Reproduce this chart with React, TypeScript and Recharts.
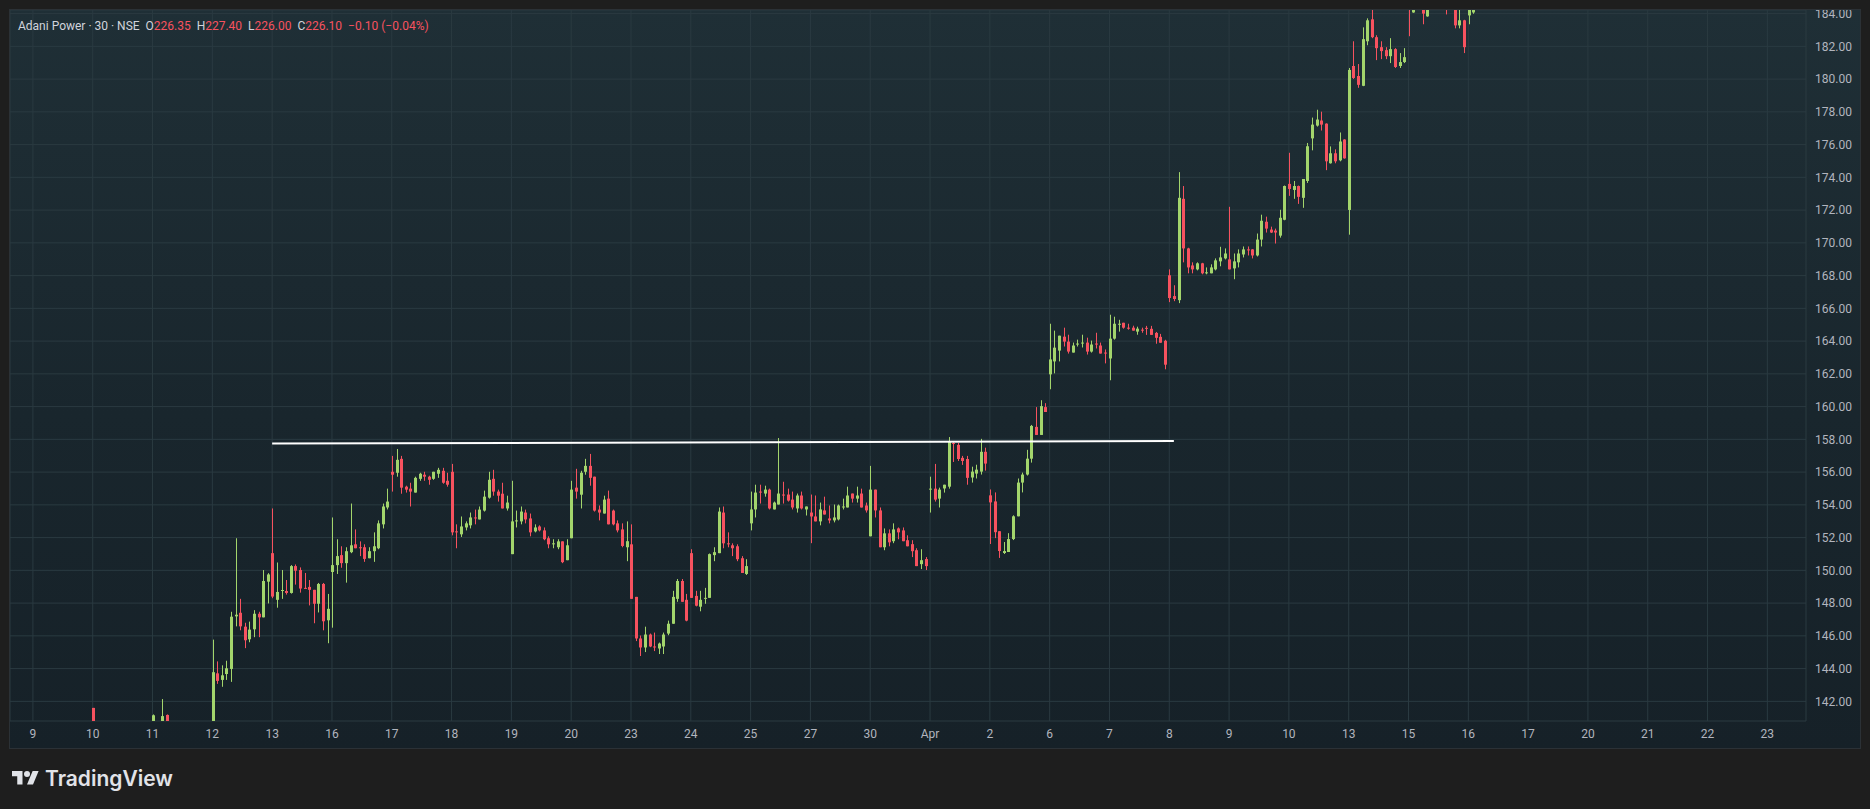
import React from "react";
import {
  ComposedChart,
  Bar,
  XAxis,
  YAxis,
  CartesianGrid,
  ReferenceLine,
} from "recharts";

// open, high, low, close (30 min bars, 13 per session)
type C = [number, number, number, number] | null;

const dayLabels = [
  "9", "10", "11", "12", "13", "16", "17", "18", "19", "20", "23", "24", "25", "27", "30",
  "Apr", "2", "6", "7", "8", "9", "10", "13", "15", "16", "17", "20", "21", "22", "23",
];

const mar09: C[] = [];
const mar10: C[] = [[141.6, 141.6, 139.8, 140.1]];
const mar11: C[] = [
  [140.4, 141.2, 140.2, 141.15], null, [140.6, 142.14, 140.4, 141.1], [141.17, 141.2, 140.3, 140.5],
];
const mar12: C[] = [
  [139.9, 145.77, 139.6, 143.78], [143.71, 144.44, 143.07, 143.25], [143.31, 144.2, 142.89, 143.59],
  [143.67, 144.48, 143.31, 144.02], [143.98, 147.47, 143.19, 147.17], [147.19, 151.96, 146.58, 147.29],
  [147.41, 148.26, 146.34, 146.58], [146.56, 146.8, 145.25, 145.73], [145.79, 146.87, 145.61, 146.38],
  [146.4, 147.57, 145.92, 147.35], [147.35, 147.47, 145.92, 147.13], [147.13, 150.02, 147.13, 149.35],
  [149.31, 149.83, 147.98, 149.75],
];
const mar13: C[] = [
  [151.05, 153.78, 148.3, 148.4], [148.2, 150.48, 147.72, 148.68], [148.74, 150.02, 148.26, 148.8],
  [148.74, 149.41, 148.52, 148.62], [148.62, 150.32, 148.58, 150.26], [150.26, 150.36, 149.13, 149.98],
  [150.02, 150.18, 148.64, 148.89], [148.93, 149.84, 148.87, 148.89], [148.99, 149.41, 147.86, 148.81],
  [148.81, 148.81, 146.77, 147.96], [147.96, 149.23, 147.43, 149.17], [149.17, 149.23, 146.34, 146.89],
  [146.95, 148.56, 145.55, 147.65],
];
const mar16: C[] = [
  [149.9, 153.23, 146.5, 150.32], [150.32, 151.9, 149.78, 150.87], [150.93, 151.47, 150.16, 150.44],
  [150.44, 151.41, 149.25, 151.17], [151.11, 154.08, 151.05, 151.53], [151.59, 152.5, 151.35, 151.35],
  [151.41, 151.77, 150.87, 151.37], [151.41, 151.59, 150.52, 150.7], [150.74, 151.41, 150.74, 151.17],
  [151.17, 152.32, 150.52, 151.47], [151.35, 153.05, 151.29, 152.87], [152.81, 154.08, 152.56, 153.9],
  [153.84, 154.99, 153.72, 154.2],
];
const mar17: C[] = [
  [156.02, 156.99, 154.81, 155.84], [155.96, 157.41, 155.72, 156.75], [156.81, 156.99, 154.68, 155.05],
  [155.11, 155.17, 154.75, 154.93], [154.99, 155.35, 153.9, 154.81], [154.75, 155.72, 154.75, 155.65],
  [155.59, 155.96, 155.47, 155.9], [155.84, 156.02, 155.47, 155.72], [155.72, 155.78, 155.23, 155.53],
  [155.59, 156.02, 155.53, 156.02], [155.9, 156.26, 155.65, 156.14], [156.08, 156.26, 155.29, 155.35],
  [155.47, 155.96, 155.11, 155.23],
];
const mar18: C[] = [
  [156.02, 156.5, 152.14, 152.32], [152.38, 152.81, 151.35, 152.32], [152.2, 153.29, 152.04, 152.68],
  [152.62, 152.99, 152.44, 152.87], [152.75, 153.53, 152.56, 153.23], [153.23, 153.71, 152.81, 153.17],
  [153.11, 153.9, 153.11, 153.71], [153.65, 154.87, 153.59, 154.5], [154.44, 156.02, 154.38, 155.53],
  [155.59, 156.14, 154.56, 154.81], [154.81, 154.93, 154.2, 154.56], [154.68, 155.35, 153.78, 153.78],
  [153.78, 154.56, 153.65, 154.14],
];
const mar19: C[] = [
  [150.99, 155.47, 150.99, 152.99], [153.0, 153.65, 152.62, 153.05], [152.99, 153.9, 152.81, 153.59],
  [153.53, 153.71, 152.87, 153.11], [153.17, 153.47, 152.08, 152.32], [152.38, 152.81, 152.32, 152.62],
  [152.68, 152.75, 152.38, 152.44], [152.44, 152.62, 151.84, 151.9], [151.96, 152.08, 151.35, 151.59],
  [151.59, 151.9, 151.35, 151.65], [151.41, 151.9, 151.29, 151.77], [151.77, 151.77, 150.44, 150.5],
  [150.62, 151.9, 150.62, 151.53],
];
const mar20: C[] = [
  [151.96, 155.47, 151.96, 154.93], [155.05, 156.2, 154.38, 154.81], [154.62, 156.08, 153.78, 155.96],
  [156.02, 156.81, 155.84, 156.38], [156.38, 157.11, 155.17, 155.65], [155.72, 155.72, 153.59, 153.65],
  [153.71, 153.96, 153.05, 153.53], [153.47, 154.56, 153.47, 154.32], [154.38, 154.87, 152.81, 152.81],
  [153.65, 153.71, 152.75, 152.81], [152.87, 153.05, 152.32, 152.44], [152.5, 152.87, 151.41, 151.49],
  [151.41, 152.99, 150.56, 151.78],
];
const mar23: C[] = [
  [151.59, 152.81, 148.26, 148.26], [148.38, 148.38, 145.68, 145.84], [145.84, 146.02, 144.77, 145.29],
  [145.29, 146.56, 145.01, 146.08], [146.08, 146.14, 145.31, 145.35], [145.35, 146.2, 145.07, 145.29],
  [145.23, 145.59, 144.89, 145.53], [145.35, 146.2, 144.89, 146.08], [146.14, 146.93, 146.04, 146.74],
  [146.74, 148.75, 146.74, 148.38], [148.26, 149.47, 148.08, 149.35], [149.35, 149.47, 148.08, 148.08],
  [148.2, 148.56, 146.89, 146.93],
];
const mar24: C[] = [
  [151.05, 151.29, 148.32, 148.32], [148.44, 148.75, 147.8, 147.84], [147.78, 148.75, 147.5, 148.2],
  [148.26, 148.93, 147.96, 148.32], [148.32, 151.03, 148.32, 150.99], [150.93, 151.41, 150.56, 151.11],
  [151.05, 153.84, 151.05, 153.59], [153.53, 153.9, 151.35, 151.65], [151.65, 152.32, 151.41, 151.59],
  [151.53, 151.65, 150.87, 151.35], [151.47, 151.59, 150.56, 150.68], [150.74, 150.87, 149.84, 149.84],
  [149.78, 150.68, 149.72, 150.26],
];
const mar25: C[] = [
  [152.87, 154.81, 152.44, 153.72], [153.72, 155.23, 153.23, 154.75], [154.81, 155.23, 154.08, 154.75],
  [154.69, 155.17, 154.5, 154.93], [154.93, 154.99, 153.72, 153.78], [153.72, 154.2, 153.72, 154.14],
  [154.02, 158.08, 154.02, 154.69], [154.63, 155.41, 154.08, 154.57], [154.63, 154.99, 154.2, 154.26],
  [154.32, 154.81, 153.72, 153.84], [153.78, 154.69, 153.53, 154.57], [154.57, 154.81, 153.72, 153.78],
  [153.72, 153.9, 153.35, 153.9],
];
const mar27: C[] = [
  [153.53, 154.63, 151.66, 153.29], [153.29, 154.57, 152.99, 152.99], [152.99, 154.14, 152.75, 153.72],
  [153.66, 154.5, 153.41, 153.41], [153.17, 153.96, 152.87, 153.05], [153.05, 154.02, 152.93, 153.23],
  [153.11, 154.02, 153.05, 153.96], [153.84, 154.38, 153.72, 153.9], [153.84, 155.11, 153.84, 154.57],
  [154.69, 154.69, 154.14, 154.38], [154.38, 155.11, 154.14, 154.57], [154.69, 154.99, 153.84, 153.84],
  [153.96, 154.14, 153.53, 153.66],
];
const mar30: C[] = [
  [152.08, 156.38, 152.08, 154.93], [154.93, 154.93, 153.23, 153.66], [153.66, 153.84, 151.41, 151.41],
  [151.41, 152.56, 151.23, 152.26], [152.26, 152.5, 151.47, 151.71], [151.78, 152.87, 151.66, 152.5],
  [152.56, 152.62, 151.9, 152.32], [152.44, 152.62, 151.78, 151.78], [151.84, 152.14, 151.47, 151.47],
  [151.6, 151.84, 150.81, 151.17], [151.23, 151.35, 150.26, 150.26], [150.38, 151.29, 150.08, 150.62],
  [150.69, 150.81, 150.02, 150.26],
];
const apr01: C[] = [
  [154.93, 155.72, 153.53, 154.99], [154.99, 156.5, 154.2, 154.32], [154.38, 155.05, 153.84, 154.93],
  [155.0, 155.23, 154.75, 155.23], [155.11, 158.14, 154.99, 157.9], [157.78, 157.84, 156.62, 157.72],
  [157.66, 157.78, 156.68, 156.8], [156.87, 156.99, 156.44, 156.68], [156.8, 156.99, 155.23, 155.65],
  [155.67, 156.33, 155.36, 156.03], [155.91, 156.45, 155.61, 156.15], [156.03, 158.03, 155.85, 157.24],
  [157.24, 157.49, 156.09, 156.52],
];
const apr02: C[] = [
  [154.58, 154.94, 151.61, 154.15], [154.21, 154.76, 151.97, 152.33], [152.39, 152.39, 150.76, 151.18],
  [151.06, 151.73, 151.0, 151.18], [151.12, 152.27, 151.12, 151.91], [151.91, 153.36, 151.85, 153.3],
  [153.3, 155.61, 153.3, 155.36], [155.36, 155.97, 154.76, 155.85], [155.85, 157.36, 155.79, 156.82],
  [156.82, 158.88, 156.58, 158.82], [158.76, 159.97, 158.27, 158.27], [158.27, 160.39, 158.27, 160.03],
  [159.97, 160.21, 159.67, 159.67],
];
const apr06: C[] = [
  [161.97, 165.06, 161.06, 162.88], [162.76, 164.64, 162.03, 163.6], [163.42, 164.33, 162.76, 164.33],
  [164.27, 164.82, 163.67, 163.97], [163.97, 164.39, 163.24, 163.36], [163.3, 163.91, 163.3, 163.73],
  [163.79, 164.09, 163.67, 163.85], [163.85, 164.39, 163.61, 163.91], [163.91, 164.21, 163.18, 163.36],
  [163.36, 164.03, 163.3, 163.79], [163.85, 164.51, 163.55, 163.79], [163.73, 163.91, 163.24, 163.24],
  [163.3, 163.49, 162.64, 163.24],
];
const apr07: C[] = [
  [162.94, 165.61, 161.61, 164.15], [164.15, 165.49, 164.09, 165.06], [165.0, 165.3, 164.58, 165.06],
  [165.12, 165.12, 164.76, 164.82], [164.82, 165.06, 164.7, 164.76], [164.82, 164.94, 164.64, 164.64],
  [164.58, 164.88, 164.39, 164.76], [164.7, 164.82, 164.51, 164.64], [164.81, 164.93, 164.38, 164.75],
  [164.75, 164.93, 164.38, 164.38], [164.5, 164.56, 163.84, 164.2], [164.26, 164.44, 163.9, 163.9],
  [164.02, 164.08, 162.28, 162.56],
];
const apr08: C[] = [
  [168.02, 168.38, 166.38, 166.63], [166.75, 167.41, 166.44, 166.57], [166.5, 174.32, 166.32, 172.75],
  [172.69, 173.47, 168.81, 169.66], [169.66, 169.7, 168.14, 168.5], [168.62, 168.81, 168.14, 168.38],
  [168.38, 168.81, 168.32, 168.75], [168.75, 168.78, 168.08, 168.14], [168.14, 168.5, 168.08, 168.2],
  [168.14, 168.69, 168.14, 168.5], [168.38, 169.05, 168.32, 168.93], [168.87, 169.76, 168.57, 169.11],
  [169.05, 169.66, 168.99, 169.35],
];
const apr09: C[] = [
  [168.99, 172.2, 168.38, 168.38], [168.44, 169.35, 167.78, 168.87], [168.81, 169.6, 168.5, 169.35],
  [169.29, 169.78, 169.11, 169.6], [169.6, 169.78, 169.23, 169.54], [169.6, 169.62, 169.05, 169.23],
  [169.23, 170.57, 169.17, 170.2], [170.2, 171.72, 169.78, 171.35], [171.29, 171.6, 170.63, 170.87],
  [170.81, 170.99, 170.6, 170.63], [170.75, 170.87, 169.96, 170.63], [170.44, 172.02, 170.32, 171.53],
  [171.41, 173.5, 171.38, 173.47],
];
const apr10: C[] = [
  [173.6, 175.5, 172.87, 173.29], [173.23, 173.78, 172.69, 173.47], [173.47, 173.5, 172.38, 172.81],
  [172.75, 173.9, 172.14, 173.9], [173.78, 176.1, 173.66, 175.9], [176.38, 177.65, 175.65, 177.22],
  [177.16, 178.13, 177.1, 177.53], [177.47, 178.01, 176.86, 177.22], [177.28, 177.3, 174.44, 174.98],
  [174.86, 175.89, 174.84, 175.47], [175.47, 175.71, 174.86, 174.98], [175.04, 176.74, 174.98, 176.19],
  [176.31, 176.33, 175.14, 175.16],
];
const apr13: C[] = [
  [172.01, 180.68, 170.5, 180.56], [180.8, 182.31, 180.01, 180.07], [180.19, 180.92, 179.47, 179.65],
  [179.59, 183.16, 179.57, 182.44], [182.31, 183.71, 182.07, 183.59], [183.65, 184.4, 182.5, 182.56],
  [182.56, 182.68, 181.16, 181.89], [181.95, 182.31, 181.22, 181.71], [181.77, 181.95, 181.22, 181.4],
  [181.4, 182.5, 180.98, 181.83], [181.83, 181.89, 180.68, 180.74], [180.8, 181.59, 180.68, 181.04],
  [181.04, 181.89, 180.98, 181.34],
];
const apr15: C[] = [
  [185.6, 186.1, 182.62, 184.5], [184.07, 184.9, 184.05, 184.6], null,
  [184.6, 184.9, 183.35, 184.0], [183.83, 184.7, 183.81, 184.45], null,
  null, null, [185.2, 185.6, 183.95, 184.8],
  null, [184.6, 185.0, 183.1, 183.28], [183.28, 184.4, 183.1, 183.59],
  [183.59, 183.62, 181.59, 181.95],
];
const apr16: C[] = [[183.89, 184.8, 183.35, 184.5], [184.07, 184.9, 183.99, 184.6]];

const sessions = [
  mar09, mar10, mar11, mar12, mar13, mar16, mar17, mar18, mar19, mar20, mar23, mar24, mar25,
  mar27, mar30, apr01, apr02, apr06, apr07, apr08, apr09, apr10, apr13, apr15, apr16,
];

const priceTicks = [
  142, 144, 146, 148, 150, 152, 154, 156, 158, 160, 162, 164, 166, 168, 170, 172, 174, 176,
  178, 180, 182, 184,
];

// drawn trend line: [bar index, price]
const trendLine = [
  { x: 52, y: 157.74 },
  { x: 248, y: 157.9 },
];

const BARS_PER_DAY = 13;
const UP = "#a3d56c";
const DOWN = "#f7525f";
const AXIS_TEXT = "#b2b5be";
const GRID = "#2a3a41";

const candles = sessions.flatMap((day, d) =>
  day
    .map((c, k) =>
      c
        ? {
            i: d * BARS_PER_DAY + k,
            open: c[0],
            high: c[1],
            low: c[2],
            close: c[3],
            range: [c[2], c[1]],
          }
        : null
    )
    .filter(Boolean)
);

const dayTicks = dayLabels.map((_, d) => d * BARS_PER_DAY);

function Candle(props: any) {
  const { x, y, width, height, payload } = props;
  if (!payload || height == null) return null;
  const { open, close, high, low } = payload;
  const k = high > low ? height / (high - low) : 0;
  const cx = Math.round(x + width / 2);
  const color = close >= open ? UP : DOWN;
  const top = y + (high - Math.max(open, close)) * k;
  const bottom = y + (high - Math.min(open, close)) * k;
  return (
    <g>
      <rect x={cx} y={y} width={1} height={Math.max(height, 1)} fill={color} />
      <rect x={cx - 1} y={top} width={3} height={Math.max(bottom - top, 1)} fill={color} />
    </g>
  );
}

function Logo() {
  return (
    <svg width={27} height={21} viewBox="0 0 36 28">
      <path d="M14 22H7V11H0V4h14v18zM28 22h-8l7.5-18h8L28 22z" fill="#e1e3e8" />
      <circle cx={20} cy={8} r={4} fill="#e1e3e8" />
    </svg>
  );
}

export default function App() {
  return (
    <div
      style={{
        position: "absolute",
        left: 0,
        top: 0,
        width: 1870,
        height: 809,
        background: "#1e1e1e",
        overflow: "hidden",
        fontFamily: "Roboto, 'Noto Sans', sans-serif",
      }}
    >
      <div
        style={{
          position: "absolute",
          left: 9,
          top: 9,
          width: 1850,
          height: 738,
          border: "1px solid #2b3136",
          background: "linear-gradient(180deg, #1f2f36 0%, #19262d 55%, #162128 100%)",
          overflow: "hidden",
        }}
      >
        <ComposedChart
          width={1850}
          height={738}
          data={candles}
          margin={{ top: 0, right: 0, bottom: 0, left: 0 }}
        >
          <CartesianGrid stroke={GRID} strokeWidth={1} />
          <XAxis
            dataKey="i"
            type="number"
            domain={[-4.98, 385.4]}
            allowDataOverflow
            ticks={dayTicks}
            interval={0}
            tickFormatter={(v) => dayLabels[Math.round(v / BARS_PER_DAY)]}
            axisLine={false}
            tickLine={false}
            tickSize={0}
            tickMargin={8}
            height={27}
            tick={{ fill: AXIS_TEXT, fontSize: 12 }}
          />
          <YAxis
            orientation="right"
            type="number"
            domain={[140.8, 184.22]}
            allowDataOverflow
            ticks={priceTicks}
            interval={0}
            tickFormatter={(v) => v.toFixed(2)}
            axisLine={false}
            tickLine={false}
            tickSize={0}
            tickMargin={9}
            width={54}
            tick={{ fill: AXIS_TEXT, fontSize: 12 }}
          />
          <Bar
            dataKey="range"
            barSize={3}
            isAnimationActive={false}
            shape={(p: any) => <Candle {...p} />}
          />
          <ReferenceLine
            segment={trendLine}
            stroke="#ffffff"
            strokeWidth={2}
            ifOverflow="visible"
          />
        </ComposedChart>
        <div
          style={{
            position: "absolute",
            left: 8,
            top: 8,
            fontSize: 12,
            lineHeight: "16px",
            color: "#d1d4dc",
            whiteSpace: "pre",
          }}
        >
          {"Adani Power · 30 · NSE  O"}
          <span style={{ color: DOWN }}>226.35</span>
          {"  H"}
          <span style={{ color: DOWN }}>227.40</span>
          {"  L"}
          <span style={{ color: DOWN }}>226.00</span>
          {"  C"}
          <span style={{ color: DOWN }}>226.10</span>
          <span style={{ color: DOWN }}>{"  −0.10 (−0.04%)"}</span>
        </div>
      </div>
      <div
        style={{
          position: "absolute",
          left: 12,
          top: 766,
          display: "flex",
          alignItems: "center",
          gap: 6,
          color: "#e1e3e8",
          fontSize: 21,
          fontWeight: 600,
          fontFamily: "Inter, Roboto, sans-serif",
        }}
      >
        <Logo />
        <span>TradingView</span>
      </div>
    </div>
  );
}
